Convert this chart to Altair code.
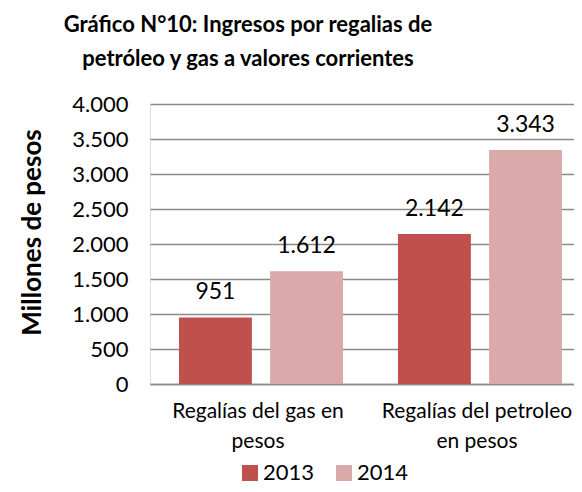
import altair as alt
import pandas as pd

categories = ["Regalías del gas en|pesos", "Regalías del petroleo| en  pesos"]
years = ["2013", "2014"]
values_2013 = [951, 2142]
values_2014 = [1612, 3343]

rows = []
for c, v in zip(categories, values_2013):
    rows.append({"cat": c, "year": "2013", "value": v})
for c, v in zip(categories, values_2014):
    rows.append({"cat": c, "year": "2014", "value": v})
df = pd.DataFrame(rows)

FONT = "Lato"
colors = ["#C0504D", "#D9AAA9"]

base = alt.Chart(df).encode(
    x=alt.X("cat:N", sort=categories, title=None,
            scale=alt.Scale(paddingInner=0.251, paddingOuter=0.0936, align=0.707),
            axis=alt.Axis(labelExpr="split(datum.label, '|')", labelAngle=0,
                          labelFont=FONT, labelFontSize=21, labelColor="#000000",
                          labelLineHeight=30, labelPadding=16, ticks=False, labelLimit=400,
                          labelOffset=-3,
                          domainColor="#8A8A8A", domainWidth=1.5, labelBaseline="top")),
    xOffset=alt.XOffset("year:N", sort=years, scale=alt.Scale(paddingInner=0.2, paddingOuter=0)),
    y=alt.Y("value:Q", title="Millones de pesos",
            scale=alt.Scale(domain=[0, 4000], nice=False),
            axis=alt.Axis(values=[0, 500, 1000, 1500, 2000, 2500, 3000, 3500, 4000],
                          labelExpr="replace(format(datum.value, ','), ',', '.')",
                          labelFont=FONT, labelFontSize=22, labelColor="#000000",
                          labelPadding=22, ticks=False, domain=False,
                          gridColor="#8A8A8A", gridWidth=1.3,
                          titleFont=FONT, titleFontSize=26, titleFontWeight="bold",
                          titleColor="#000000", titleX=-105, titleY=128, titleAngle=-90)),
)

bars = base.mark_bar().encode(
    color=alt.Color("year:N", sort=years, scale=alt.Scale(domain=years, range=colors),
                    legend=alt.Legend(title=None, orient="none", direction="horizontal",
                                      legendX=89, legendY=358, symbolType="square",
                                      symbolSize=256, symbolStrokeWidth=0,
                                      labelFont=FONT, labelFontSize=22, labelColor="#000000",
                                      columnPadding=18, labelOffset=2))
)

labels = base.mark_text(font=FONT, fontSize=23, dy=-18, baseline="alphabetic", color="#000000").encode(
    text="label:N"
).transform_calculate(label="replace(format(datum.value, ','), ',', '.')")

chart = alt.layer(bars, labels).properties(
    width=424, height=280,
    title=alt.TitleParams(
        text=["Gráfico N°10: Ingresos por regalias de", "petróleo y gas a valores corrientes"],
        font=FONT, fontSize=22, fontWeight="bold", color="#000000",
        anchor="middle", dx=-114, offset=22, lineHeight=34),
    autosize=alt.AutoSizeParams(type="none"),
    padding={"left": 142, "top": 96, "right": 0, "bottom": 100},
).configure_view(stroke=None).configure(background="#FFFFFF")

chart.save("out.html", embed_options={"renderer": "svg", "actions": False})
